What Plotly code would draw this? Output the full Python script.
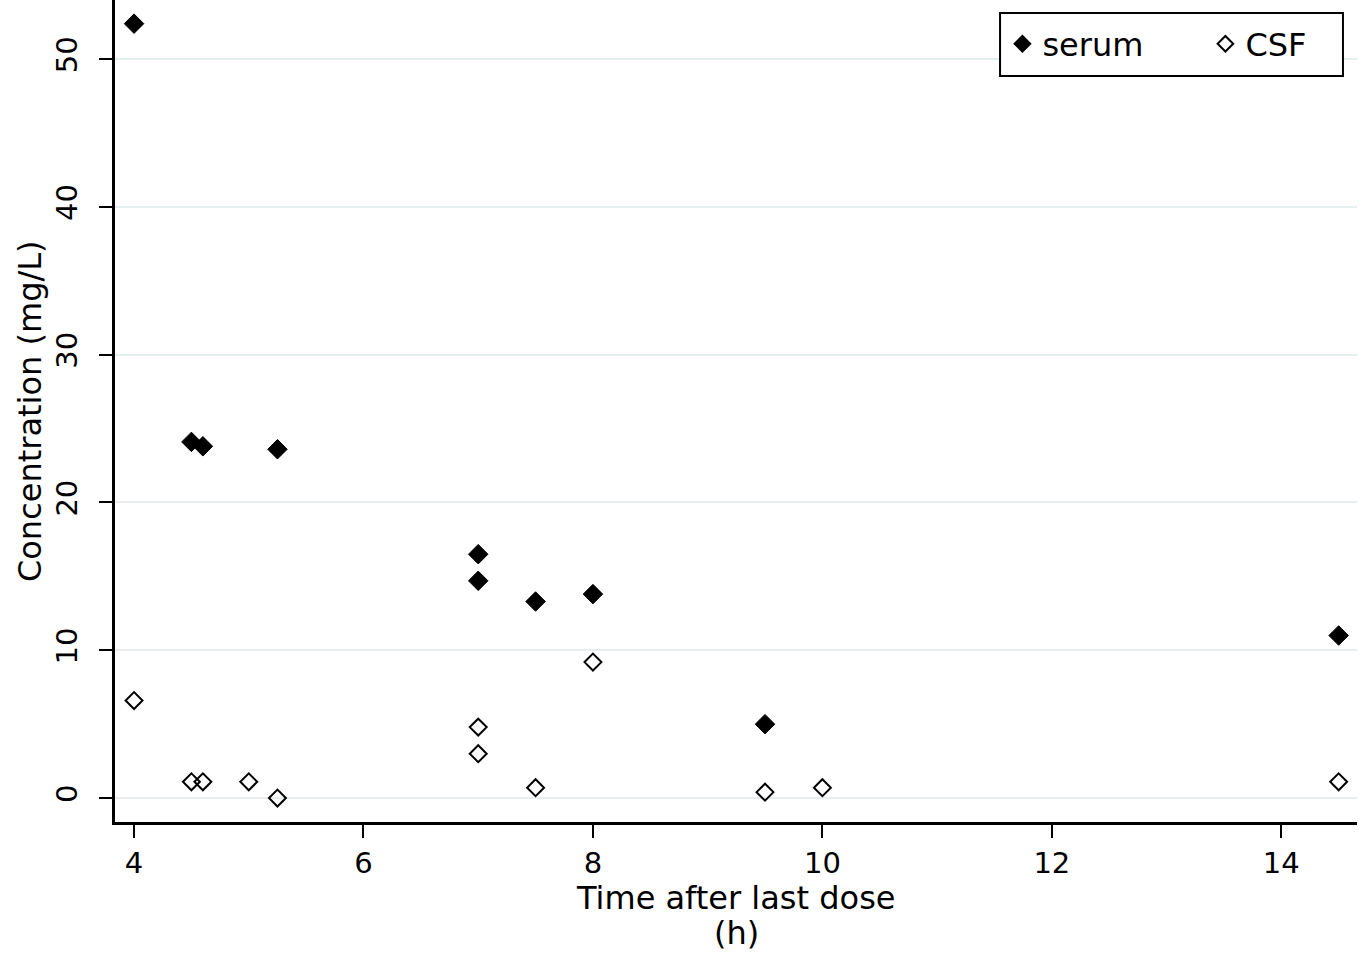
import plotly.graph_objects as go

serum_time = [4, 4.5, 4.6, 5.25, 7, 7, 7.5, 8, 9.5, 14.5]
serum_conc = [52.4, 24.1, 23.8, 23.6, 16.5, 14.7, 13.3, 13.8, 5.0, 11.0]
csf_time = [4, 4.5, 4.6, 5, 5.25, 7, 7, 7.5, 8, 9.5, 10, 14.5]
csf_conc = [6.6, 1.1, 1.1, 1.1, 0.0, 4.8, 3.0, 0.7, 9.2, 0.4, 0.7, 1.1]
x_ticks = [4, 6, 8, 10, 12, 14]
y_ticks = [0, 10, 20, 30, 40, 50]

font = "DejaVu Sans, Liberation Sans, sans-serif"

fig = go.Figure()
fig.add_trace(go.Scatter(
    x=serum_time, y=serum_conc, mode="markers", name="serum",
    marker=dict(symbol="diamond", size=15, color="black", line=dict(width=1, color="black"))))
fig.add_trace(go.Scatter(
    x=csf_time, y=csf_conc, mode="markers", name="CSF",
    marker=dict(symbol="diamond-open", size=13, color="black", line=dict(width=2, color="black"))))

fig.update_layout(
    width=1363, height=957,
    margin=dict(l=115, r=6, t=0, b=135, autoexpand=False),
    paper_bgcolor="white", plot_bgcolor="white",
    font=dict(family=font, size=29, color="black"),
    showlegend=True,
    legend=dict(orientation="h", x=0.7145, xanchor="left", y=0.9465, yanchor="middle",
                borderwidth=0, bgcolor="rgba(0,0,0,0)",
                font=dict(size=32), itemsizing="constant", entrywidth=158),
    xaxis=dict(range=[3.834, 14.66], tickvals=x_ticks, showgrid=False, zeroline=False,
               showline=True, linecolor="black", linewidth=3, ticks="outside",
               ticklen=13, tickwidth=2, tickcolor="black", automargin=False),
    yaxis=dict(range=[-1.62, 54.0], tickvals=y_ticks, showgrid=True, gridcolor="#e6eff0",
               gridwidth=2, zeroline=False, showline=True, linecolor="black", linewidth=3,
               ticks="outside", ticklen=13, tickwidth=2, tickcolor="black", tickangle=-90,
               ticklabelstandoff=10, automargin=False),
    shapes=[dict(type="rect", xref="paper", yref="paper", x0=0.7126, x1=0.9887,
                 y0=0.9075, y1=0.9842, line=dict(color="black", width=2),
                 fillcolor="white", layer="above")],
    annotations=[
        dict(text="Time after last dose", xref="paper", yref="paper",
             x=0.5, y=-0.0925, xanchor="center", yanchor="middle", showarrow=False,
             font=dict(size=32)),
        dict(text="(h)", xref="paper", yref="paper",
             x=0.5, y=-0.135, xanchor="center", yanchor="middle", showarrow=False,
             font=dict(size=32)),
        dict(text="Concentration (mg/L)", xref="paper", yref="paper",
             x=-0.0684, y=0.5, xanchor="center", yanchor="middle", textangle=-90,
             showarrow=False, font=dict(size=32)),
    ],
)

fig.write_html("out.html", config={"displayModeBar": False},
               post_script="document.body.style.margin='0px';document.body.style.padding='0px';")
